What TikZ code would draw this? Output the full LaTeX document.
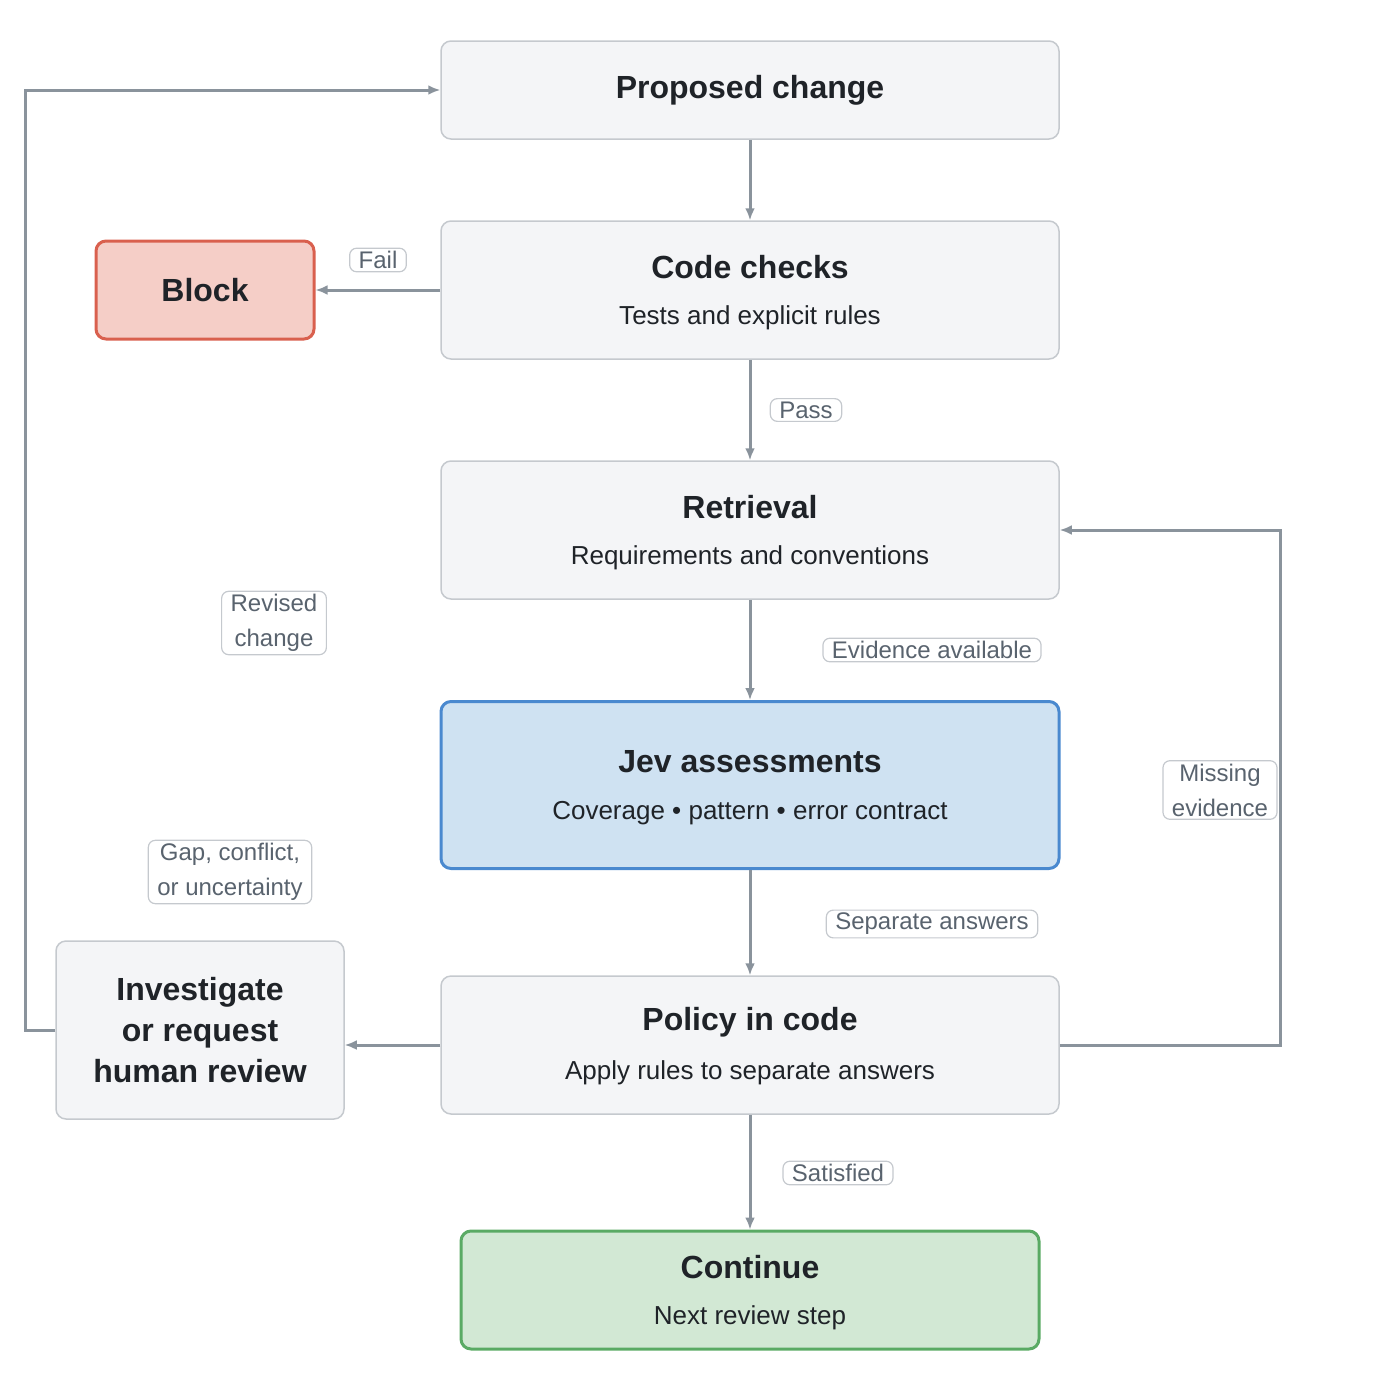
\documentclass[tikz,border=0pt]{standalone}
\usepackage{fontspec}
\setmainfont{Liberation Sans}
\usetikzlibrary{arrows.meta}
\definecolor{gfill}{HTML}{F4F5F7}
\definecolor{gline}{HTML}{C5C9CE}
\definecolor{arr}{HTML}{8A939C}
\definecolor{txt}{HTML}{1F2328}
\definecolor{ltxt}{HTML}{59636E}
\definecolor{rfill}{HTML}{F5CEC7}
\definecolor{rline}{HTML}{D9604E}
\definecolor{bfill}{HTML}{CFE2F2}
\definecolor{bline}{HTML}{4A89CF}
\definecolor{vfill}{HTML}{D2E8D4}
\definecolor{vline}{HTML}{5AAA64}
\begin{document}
\begin{tikzpicture}[x=1pt,y=-1pt,
 box/.style={draw=gline,fill=gfill,line width=1.5pt,rounded corners=10pt,inner sep=0pt,text=txt,align=center},
 ttl/.style={font=\fontsize{32}{38}\selectfont\bfseries},
 sub/.style={font=\fontsize{26}{31}\selectfont},
 lab/.style={draw=gline,fill=white,line width=1.2pt,rounded corners=7pt,text=ltxt,font=\fontsize{24}{35}\selectfont,align=center,inner xsep=9pt,inner ysep=3pt},
 ar/.style={draw=arr,line width=3pt,-{Latex[length=12pt,width=10pt]}}]
\useasboundingbox (0,0) rectangle (1400,1400);
\node[box,minimum width=618pt,minimum height=98pt,ttl] (prop) at (750,90) {Proposed change};
\node[box,minimum width=618pt,minimum height=138pt] (code) at (750,290) {};
\node[ttl,text=txt] (codet) at (750,267) {Code checks};
\node[sub,text=txt] (codes) at (750,318) {Tests and explicit rules};
\node[box,draw=rline,fill=rfill,line width=3pt,minimum width=218pt,minimum height=98pt,ttl] (block) at (205,290) {Block};
\node[box,minimum width=618pt,minimum height=138pt] (ret) at (750,530) {};
\node[ttl,text=txt] (rett) at (750,507) {Retrieval};
\node[sub,text=txt] (rets) at (750,558) {Requirements and conventions};
\node[box,draw=bline,fill=bfill,line width=3pt,minimum width=618pt,minimum height=167pt] (jev) at (750,785) {};
\node[ttl,text=txt] (jevt) at (750,762) {Jev assessments};
\node[sub,text=txt] (jevs) at (750,813) {Coverage • pattern • error contract};
\node[box,minimum width=618pt,minimum height=138pt] (pol) at (750,1045) {};
\node[ttl,text=txt] (polt) at (750,1022) {Policy in code};
\node[sub,text=txt] (pols) at (750,1073) {Apply rules to separate answers};
\node[box,minimum width=288pt,minimum height=178pt,ttl,font=\fontsize{32}{41}\selectfont\bfseries] (inv) at (200,1030) {Investigate\\or request\\human review};
\node[box,draw=vline,fill=vfill,line width=3pt,minimum width=578pt,minimum height=118pt] (cont) at (750,1290) {};
\node[ttl,text=txt] (contt) at (750,1267) {Continue};
\node[sub,text=txt] (conts) at (750,1318) {Next review step};
\coordinate (rb) at (1280,1045);
\coordinate (rt) at (1280,530);
\coordinate (lb) at (25,1030);
\coordinate (lt) at (25,90);
\draw[ar] (prop) -- (code);
\draw[ar] (code.west) -- (block.east);
\draw[ar] (code) -- (ret);
\draw[ar] (ret) -- (jev);
\draw[ar] (jev) -- (pol);
\draw[ar] (pol.west) -- (inv.east |- pol.west);
\draw[ar] (pol) -- (cont);
\draw[ar] (pol.east) -- (rb) -- (rt) -- (ret.east);
\draw[ar] (inv.west) -- (lb) -- (lt) -- (prop.west);
\node[lab] (l1) at (378,260) {Fail};
\node[lab] (l2) at (806,410) {Pass};
\node[lab] (l3) at (932,650) {Evidence available};
\node[lab] (l4) at (932,924) {Separate answers};
\node[lab] (l5) at (838,1173) {Satisfied};
\node[lab] (l6) at (274,623) {Revised\\change};
\node[lab] (l7) at (1220,790) {Missing\\evidence};
\node[lab] (l8) at (230,872) {Gap, conflict,\\or uncertainty};
\end{tikzpicture}
\end{document}
